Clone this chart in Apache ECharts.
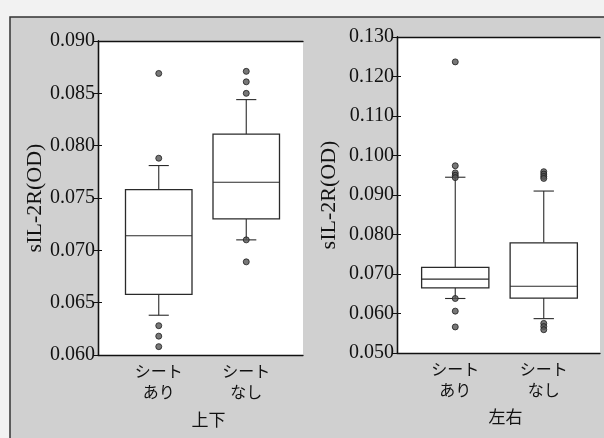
<!DOCTYPE html>
<html>
<head>
<meta charset="utf-8">
<script src="https://cdn.jsdelivr.net/npm/echarts@6/dist/echarts.min.js"></script>
<style>
  html, body { margin: 0; padding: 0; background: #f2f2f2; }
  #chart { width: 604px; height: 438px; }
</style>
</head>
<body>
<div id="chart"></div>
<script>
// categories
const groups = ['シート\nあり', 'シート\nなし'];
const panelNames = ['上下', '左右'];

// boxes: [min, Q1, median, Q3, max]
const udBoxes = [
  [0.0638, 0.0658, 0.0714, 0.0758, 0.0781],
  [0.0710, 0.0730, 0.0765, 0.0811, 0.0844]
];
const lrBoxes = [
  [0.0638, 0.0665, 0.0687, 0.0717, 0.0945],
  [0.0587, 0.0639, 0.0669, 0.0779, 0.0910]
];

// outliers per group
const udOutliers = [
  [0.0869, 0.0788, 0.0628, 0.0618, 0.0608],
  [0.0871, 0.0861, 0.0850, 0.0710, 0.0689]
];
const lrOutliers = [
  [0.1237, 0.0974, 0.0956, 0.0950, 0.0944, 0.0638, 0.0606, 0.0566],
  [0.0959, 0.0953, 0.0947, 0.0942, 0.0575, 0.0567, 0.0559]
];

// y ticks
const udTicks = { min: 0.060, max: 0.090, step: 0.005 };
const lrTicks = { min: 0.050, max: 0.130, step: 0.010 };

const ink = '#111';
const numFont = 'Liberation Serif';
const jpFont = 'Noto Sans CJK JP';

function renderBox(params, api) {
  const i = api.value(0);
  const lo = api.coord([i, api.value(1)]);
  const q1 = api.coord([i, api.value(2)]);
  const md = api.coord([i, api.value(3)]);
  const q3 = api.coord([i, api.value(4)]);
  const hi = api.coord([i, api.value(5)]);
  const band = api.size([1, 0])[0];
  const hw = band * 0.38, cw = band * 0.115;
  const cx = md[0];
  const ln = { stroke: '#2a2a2a', lineWidth: 1.1 };
  return {
    type: 'group',
    children: [
      { type: 'line', shape: { x1: cx, y1: q3[1], x2: cx, y2: hi[1] }, style: ln },
      { type: 'line', shape: { x1: cx, y1: q1[1], x2: cx, y2: lo[1] }, style: ln },
      { type: 'line', shape: { x1: cx - cw, y1: hi[1], x2: cx + cw, y2: hi[1] }, style: ln },
      { type: 'line', shape: { x1: cx - cw, y1: lo[1], x2: cx + cw, y2: lo[1] }, style: ln },
      { type: 'rect', shape: { x: cx - hw, y: q3[1], width: hw * 2, height: q1[1] - q3[1] },
        style: { fill: '#fff', stroke: '#2a2a2a', lineWidth: 1.3 } },
      { type: 'line', shape: { x1: cx - hw, y1: md[1], x2: cx + hw, y2: md[1] }, style: ln }
    ]
  };
}

function frameAxes(gridIndex, ticks, nameGap) {
  const xs = [
    { gridIndex, type: 'value', min: 0, max: 1, position: 'bottom',
      axisLine: { lineStyle: { color: ink, width: 1.3 } },
      axisTick: { show: false }, axisLabel: { show: false }, splitLine: { show: false } },
    { gridIndex, type: 'value', min: 0, max: 1, position: 'top',
      axisLine: { lineStyle: { color: ink, width: 1.3 } },
      axisTick: { show: false }, axisLabel: { show: false }, splitLine: { show: false } }
  ];
  const ys = [
    { gridIndex, type: 'value', min: ticks.min, max: ticks.max, interval: ticks.step,
      position: 'left', name: 'sIL-2R(OD)', nameLocation: 'middle', nameGap,
      nameTextStyle: { fontFamily: numFont, fontSize: 22, color: ink },
      axisLine: { lineStyle: { color: ink, width: 1.3 } },
      axisTick: { length: 5, lineStyle: { color: ink } },
      axisLabel: { fontFamily: numFont, fontSize: 20, color: ink, margin: 3,
        formatter: v => v.toFixed(3) },
      splitLine: { show: false } },
    { gridIndex, type: 'value', min: ticks.min, max: ticks.max, interval: ticks.step,
      position: 'right',
      axisLine: { lineStyle: { color: ink, width: 1.3 } },
      axisTick: { length: 4, lineStyle: { color: ink } },
      axisLabel: { show: false }, splitLine: { show: false } }
  ];
  return { xs, ys };
}

function boxAxes(gridIndex, ticks, name, nameGap) {
  return {
    x: { gridIndex, type: 'category', data: groups, position: 'bottom',
      name, nameLocation: 'middle', nameGap,
      nameTextStyle: { fontFamily: jpFont, fontSize: 17, color: ink, padding: [0, 0, 0, 12] },
      axisLine: { show: false }, axisTick: { show: false },
      axisLabel: { fontFamily: jpFont, fontSize: 16, color: ink, lineHeight: 21, margin: 5 } },
    y: { gridIndex, type: 'value', min: ticks.min, max: ticks.max, show: false }
  };
}

const lf = frameAxes(0, udTicks, 51);
const rf = frameAxes(2, lrTicks, 57);
const lb = boxAxes(1, udTicks, panelNames[0], 56);
const rb = boxAxes(3, lrTicks, panelNames[1], 55);

function outlierPoints(list) {
  const pts = [];
  list.forEach((vals, i) => vals.forEach(v => pts.push([i, v])));
  return pts;
}

const dot = { color: '#555', borderColor: '#1e1e1e', borderWidth: 1 };

const option = {
  backgroundColor: '#f2f2f2',
  animation: false,
  graphic: [
    { type: 'rect', z: -10, shape: { x: 10, y: 17, width: 600, height: 430 },
      style: { fill: '#d0d0d0', stroke: '#333', lineWidth: 1.5 } }
  ],
  grid: [
    { left: 98, top: 41, width: 205, height: 314, backgroundColor: '#fff', show: true, borderWidth: 0 },
    { left: 115, top: 41, width: 175, height: 314 },
    { left: 397, top: 37, width: 203, height: 316, backgroundColor: '#fff', show: true, borderWidth: 0 },
    { left: 411, top: 37, width: 177, height: 316 }
  ],
  xAxis: [lf.xs[0], lf.xs[1], lb.x, rf.xs[0], rf.xs[1], rb.x],
  yAxis: [lf.ys[0], lf.ys[1], lb.y, rf.ys[0], rf.ys[1], rb.y],
  series: [
    { type: 'custom', xAxisIndex: 2, yAxisIndex: 2, renderItem: renderBox,
      encode: { x: 0, y: [1, 2, 3, 4, 5] },
      data: udBoxes.map((b, i) => [i].concat(b)) },
    { type: 'scatter', xAxisIndex: 2, yAxisIndex: 2, symbolSize: 6, itemStyle: dot,
      data: outlierPoints(udOutliers), z: 5 },
    { type: 'custom', xAxisIndex: 5, yAxisIndex: 5, renderItem: renderBox,
      encode: { x: 0, y: [1, 2, 3, 4, 5] },
      data: lrBoxes.map((b, i) => [i].concat(b)) },
    { type: 'scatter', xAxisIndex: 5, yAxisIndex: 5, symbolSize: 6, itemStyle: dot,
      data: outlierPoints(lrOutliers), z: 5 }
  ]
};

echarts.init(document.getElementById('chart')).setOption(option);
</script>
</body>
</html>
